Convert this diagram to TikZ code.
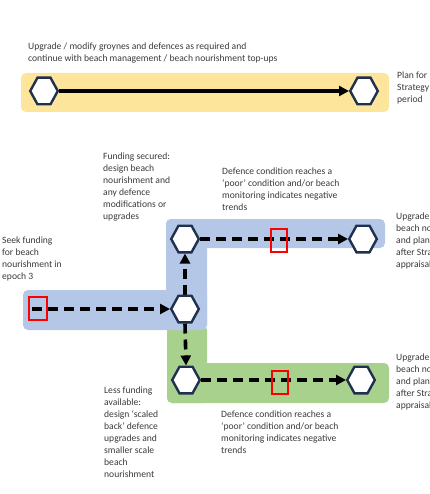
\documentclass[tikz,border=0pt]{standalone}
\usepackage{fontspec}
\setmainfont{Carlito}
\usetikzlibrary{arrows.meta}
\definecolor{yel}{HTML}{FDE59B}
\definecolor{blu}{HTML}{B4C7E7}
\definecolor{grn}{HTML}{A9D18E}
\definecolor{navy}{HTML}{1F3050}
\definecolor{txt}{HTML}{3A3A3A}
\newcommand\hexnode[3]{%
  \draw[hexline, shift={(#2,#3)}] (-13.8,0) -- (-6.5,-13.3) -- (6.5,-13.3) -- (13.8,0) -- (6.5,13.3) -- (-6.5,13.3) -- cycle;}
\begin{document}
\begin{tikzpicture}[x=1pt,y=-1pt,
  hexbox/.style={rectangle, minimum width=30pt, minimum height=29pt, inner sep=0pt, outer sep=0pt},
  hexline/.style={draw=navy, line width=2.4pt, fill=white, line join=miter},
  flow/.style={line width=3.6pt, -{Triangle[length=10pt,width=10pt]}},
  dflow/.style={flow, dash pattern=on 10pt off 6pt},
  lbl/.style={anchor=north west, align=left, inner sep=0pt, text=txt, font=\fontsize{9.6}{12}\selectfont},
  redbox/.style={draw=red, line width=1.2pt},
  band/.style={rounded corners=5pt}]
\useasboundingbox (0,0) rectangle (429,494);
\clip (0,0) rectangle (429,494);
% bands
\fill[yel, band] (21,73) rectangle (389,112);
\fill[grn, band] (167,325) rectangle (207,403);
\fill[grn, band] (167,363) rectangle (389,403);
\fill[blu, band] (23,290) rectangle (207,330);
\fill[blu, band] (166,219) rectangle (207,330);
\fill[blu, band] (166,219) rectangle (385,248);
% nodes
\coordinate (s0) at (32,309);
\node[hexbox] (t1) at (44,91) {};
\node[hexbox] (t2) at (364,91) {};
\node[hexbox] (m) at (185,309) {};
\node[hexbox] (u1) at (185,239) {};
\node[hexbox] (u2) at (363,239) {};
\node[hexbox] (l1) at (186,380) {};
\node[hexbox] (l2) at (361,380) {};
% connectors
\draw[flow] (t1.east) -- (t2.west);
\draw[dflow] (s0) -- (m.west);
\draw[dflow] (m.north) -- (u1.south);
\draw[dflow] (m.south) -- (l1.north);
\draw[dflow] (u1.east) -- (u2.west);
\draw[dflow] (l1.east) -- (l2.west);
% hexagons
\hexnode{t1}{44}{91}
\hexnode{t2}{364}{91}
\hexnode{m}{185}{309}
\hexnode{u1}{185}{239}
\hexnode{u2}{363}{239}
\hexnode{l1}{186}{380}
\hexnode{l2}{361}{380}
% red boxes
\draw[redbox] (29,297) rectangle (47,320);
\draw[redbox] (271,229) rectangle (287,252);
\draw[redbox] (272,371) rectangle (288,394);
% labels
\node[lbl] (a) at (28,43) {Upgrade / modify groynes and defences as required and\\continue with beach management / beach nourishment top-ups};
\node[lbl] (b) at (397,72) {Plan for\\Strategy\\period};
\node[lbl] (c) at (103,153) {Funding secured:\\design beach\\nourishment and\\any defence\\modifications or\\upgrades};
\node[lbl] (d) at (2,237) {Seek funding\\for beach\\nourishment in\\epoch 3};
\node[lbl] (e) at (222,168) {Defence condition reaches a\\`poor' condition and/or beach\\monitoring indicates negative\\trends};
\node[lbl] (f) at (396,213) {Upgrade defences\\beach nourishment\\and plan for\\after Strategy\\appraisal};
\node[lbl] (g) at (396,354) {Upgrade defences\\beach nourishment\\and plan for\\after Strategy\\appraisal};
\node[lbl] (h) at (104,387) {Less funding\\available:\\design `scaled\\back' defence\\upgrades and\\smaller scale\\beach\\nourishment};
\node[lbl] (i) at (221,411) {Defence condition reaches a\\`poor' condition and/or beach\\monitoring indicates negative\\trends};
\end{tikzpicture}
\end{document}
